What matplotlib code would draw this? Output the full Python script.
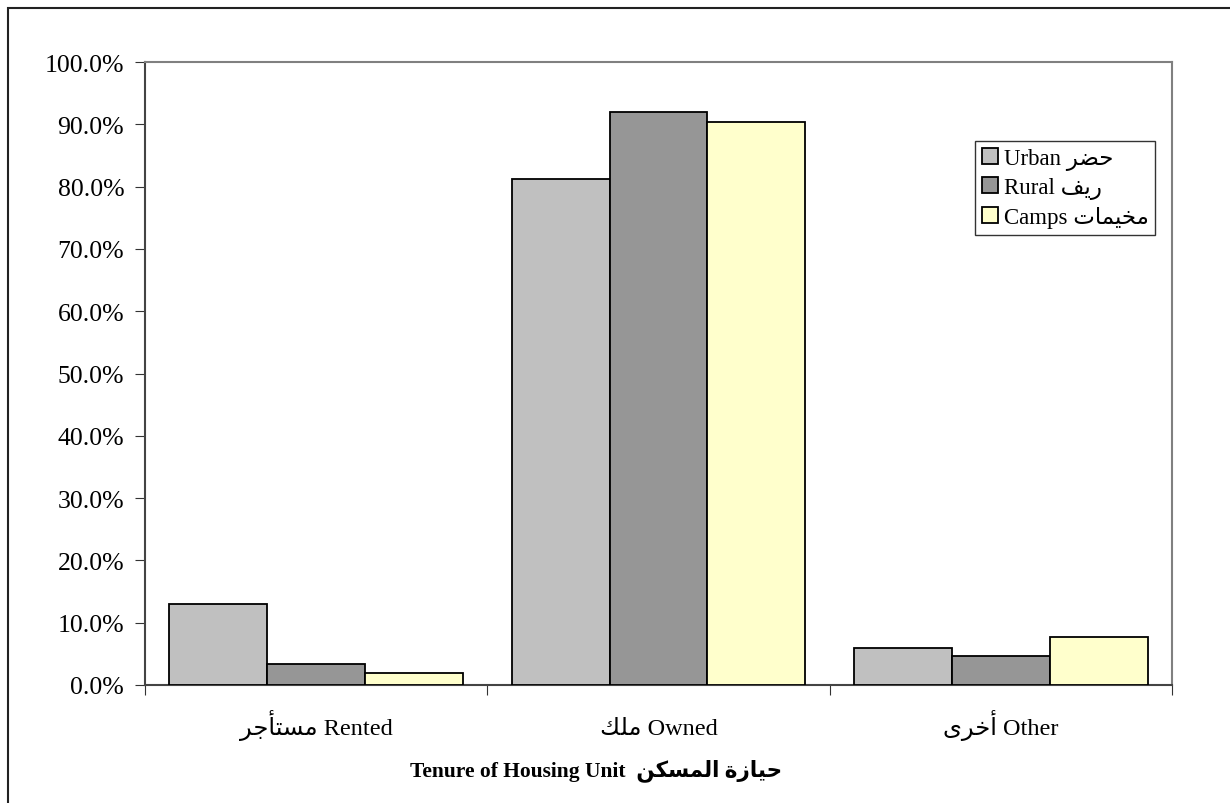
import numpy as np
import matplotlib.pyplot as plt
from matplotlib.patches import Rectangle

# Arabic written in presentation forms, visual (left-to-right) order,
# because matplotlib does no Arabic shaping
ar_urban = "\uFEAE\uFEC0\uFEA3"                      # حضر
ar_rural = "\uFED2\uFEF3\uFEAD"                      # ريف
ar_camps = "\uFE95\uFE8E\uFEE4\uFEF4\uFEA8\uFEE3"    # مخيمات
ar_rented = "\uFEAE\uFE9F\uFE84\uFE98\uFEB4\uFEE3"   # مستأجر
ar_owned = "\uFEDA\uFEE0\uFEE3"                      # ملك
ar_other = "\uFEEF\uFEAE\uFEA7\uFE83"                # أخرى
ar_title = "\uFEE6\uFEDC\uFEB4\uFEE4\uFEDF\uFE8D \uFE93\uFEAF\uFE8E\uFEF4\uFEA3"  # حيازة المسكن

# Data
categories = [ar_rented + " Rented", ar_owned + " Owned", ar_other + " Other"]
series_names = ["Urban " + ar_urban, "Rural " + ar_rural, "Camps " + ar_camps]
urban = [13.0, 81.3, 5.9]
rural = [3.3, 92.0, 4.7]
camps = [1.9, 90.4, 7.7]
colors = ["#C0C0C0", "#969696", "#FFFFCC"]

fonts = ["Liberation Serif", "DejaVu Sans"]
plt.rcParams["font.family"] = fonts

fig = plt.figure(figsize=(12.3, 8.04), dpi=100)
ax = fig.add_axes([145 / 1230, 1 - 686 / 804, (1172 - 145) / 1230, (686 - 63) / 804])

# outer chart border (only top and left visible in the picture)
fig.patches.append(Rectangle((8 / 1230, -0.05), 1.1, 1 - 9 / 804 + 0.05,
                             transform=fig.transFigure, fill=False,
                             edgecolor="#222222", lw=1.5))

x = np.arange(len(categories)) + 0.5
w = 0.286
for i, (vals, name, c) in enumerate(zip([urban, rural, camps], series_names, colors)):
    ax.bar(x + (i - 1) * w, vals, width=w, color=c, edgecolor="black",
           linewidth=1.3, label=name, zorder=3)

ax.set_xlim(0, 3)
ax.set_ylim(0, 100)
ax.set_yticks(np.arange(0, 101, 10))
ax.set_yticklabels([f"{v:.1f}%" for v in np.arange(0, 101, 10)], fontsize=18.5)
ax.set_xticks([0, 1, 2, 3])
ax.set_xticklabels([])
ax.set_xticks(x, minor=True)
ax.set_xticklabels(categories, minor=True, fontsize=17.5)
for lbl in ax.get_xticklabels(minor=True):
    lbl.set_verticalalignment("baseline")
ax.tick_params(axis="x", which="minor", length=0, pad=35)
ax.tick_params(axis="x", which="major", length=7, direction="out", color="#333333")
ax.tick_params(axis="y", length=7, direction="out", color="#333333", pad=8)

for s in ["top", "right"]:
    ax.spines[s].set_color("#808080")
    ax.spines[s].set_linewidth(1.5)
for s in ["left", "bottom"]:
    ax.spines[s].set_color("#444444")
    ax.spines[s].set_linewidth(1.5)

ax.set_xlabel("Tenure of Housing Unit  " + ar_title, fontsize=15.5,
              fontweight="bold", labelpad=20)
ax.xaxis.set_label_coords((596 - 145) / 1027, -(776 - 686) / 623)
ax.xaxis.label.set_verticalalignment("baseline")

leg = ax.legend(loc="upper left", bbox_to_anchor=(975 / 1230, 1 - 142 / 804),
                bbox_transform=fig.transFigure, fontsize=16.5, frameon=True,
                fancybox=False, edgecolor="black", handlelength=0.7,
                handleheight=0.7, handletextpad=0.25, borderpad=0.3,
                labelspacing=0.3, borderaxespad=0)
leg.get_frame().set_linewidth(1.0)

fig.savefig("out.png", dpi=100)
